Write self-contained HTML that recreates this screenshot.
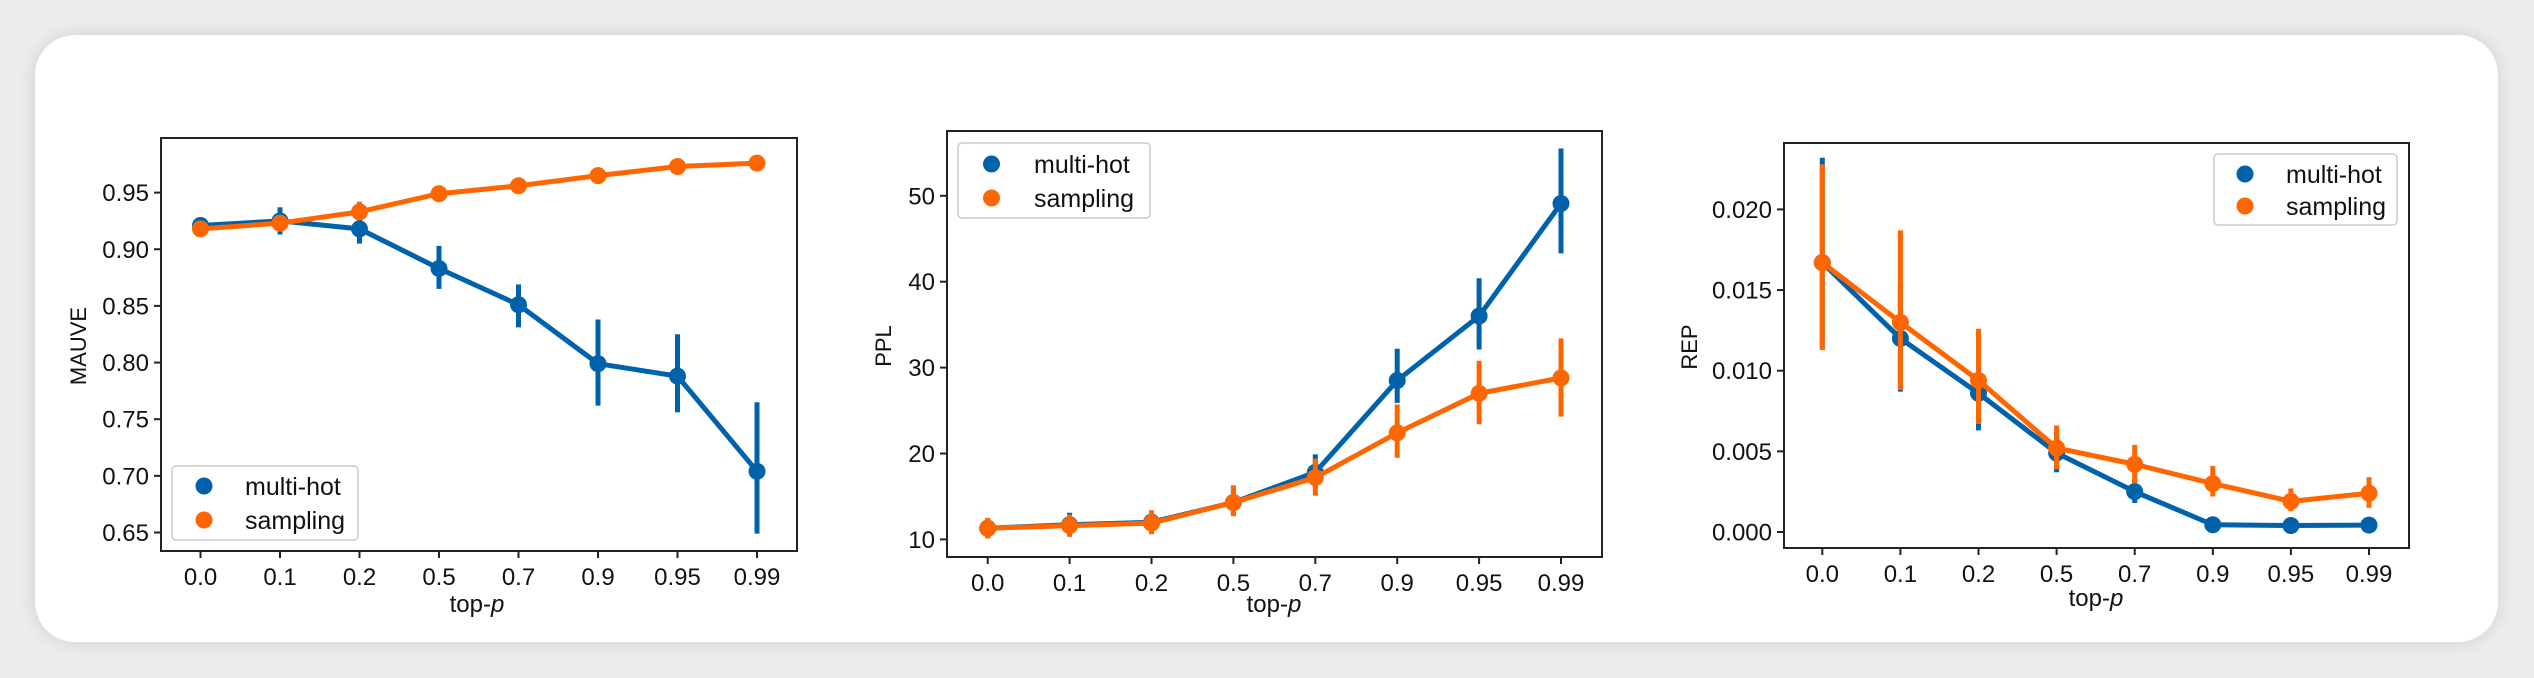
<!DOCTYPE html>
<html><head><meta charset="utf-8"><style>
html,body{margin:0;padding:0;background:#ececec;}
body{width:2534px;height:678px;overflow:hidden;position:relative;}
#card{position:absolute;left:35px;top:35px;width:2463px;height:607px;background:#fff;border-radius:40px;box-shadow:0 0 18px rgba(0,0,0,0.12);}
svg{position:absolute;left:0;top:0;}
text{font-family:"Liberation Sans",sans-serif;fill:#111;}
</style></head><body>
<div id="card"></div>
<svg id="s" width="2534" height="678" xmlns="http://www.w3.org/2000/svg"></svg>
<script>
var B="#0062ab",O="#ff6600";
var s=document.getElementById('s'),h='';
var labs=["0.0","0.1","0.2","0.5","0.7","0.9","0.95","0.99"];
function chart(c){
  var X=function(i){return c.x0+i*c.dx;};
  var Y=function(v){return c.y0+(v-c.v0)*c.sy;};
  // frame
  h+='<rect x="'+c.L+'" y="'+c.T+'" width="'+(c.R-c.L)+'" height="'+(c.Bm-c.T)+'" fill="none" stroke="#222" stroke-width="2"/>';
  for(var i=0;i<8;i++){var x=X(i);h+='<line x1="'+x+'" y1="'+c.Bm+'" x2="'+x+'" y2="'+(c.Bm+7)+'" stroke="#222" stroke-width="2"/>';
    h+='<text x="'+x+'" y="'+(c.Bm+34)+'" font-size="24" text-anchor="middle">'+labs[i]+'</text>';}
  c.yt.forEach(function(t){var y=Y(t[0]);h+='<line x1="'+(c.L-7)+'" y1="'+y+'" x2="'+c.L+'" y2="'+y+'" stroke="#222" stroke-width="2"/>';
    h+='<text x="'+(c.L-12)+'" y="'+(y+8.5)+'" font-size="24" text-anchor="end">'+t[1]+'</text>';});
  h+='<text x="'+c.xl[0]+'" y="'+c.xl[1]+'" font-size="24" text-anchor="middle">top-<tspan font-style="italic">p</tspan></text>';
  h+='<text transform="translate('+c.yl[0]+','+c.yl[1]+') rotate(-90)" font-size="22" text-anchor="middle" font-family="DejaVu Sans">'+c.yn+'</text>';
  [[c.b,c.be,B],[c.o,c.oe,O]].forEach(function(sr){
    var d=sr[0],e=sr[1],col=sr[2],p='';
    for(var i=0;i<8;i++){var v=e[i];if(v)h+='<line x1="'+X(i)+'" y1="'+Y(v[0])+'" x2="'+X(i)+'" y2="'+Y(v[1])+'" stroke="'+col+'" stroke-width="5"/>';
      p+=(i?'L':'M')+X(i)+','+Y(d[i]);}
    h+='<path d="'+p+'" fill="none" stroke="'+col+'" stroke-width="5" stroke-linejoin="round"/>';
    for(var i=0;i<8;i++)h+='<ellipse cx="'+X(i)+'" cy="'+Y(d[i])+'" rx="8.5" ry="8.5" fill="'+col+'"/>';
  });
  var g=c.lg;
  h+='<rect x="'+g[0]+'" y="'+g[1]+'" width="'+(g[2]-g[0])+'" height="'+(g[3]-g[1])+'" rx="4" fill="#fff" fill-opacity="0.85" stroke="#ccc" stroke-width="1.5"/>';
  h+='<ellipse cx="'+g[4]+'" cy="'+g[5]+'" rx="8.5" ry="8.5" fill="'+B+'"/><ellipse cx="'+g[4]+'" cy="'+g[6]+'" rx="8.5" ry="8.5" fill="'+O+'"/>';
  h+='<text x="'+g[7]+'" y="'+(g[5]+9)+'" font-size="25">multi-hot</text><text x="'+g[7]+'" y="'+(g[6]+9)+'" font-size="25">sampling</text>';
}
chart({L:161,R:797,T:138,Bm:551,x0:200.5,dx:79.5,v0:0.95,y0:192.6,sy:-56.65/0.05,
 yt:[[0.95,"0.95"],[0.90,"0.90"],[0.85,"0.85"],[0.80,"0.80"],[0.75,"0.75"],[0.70,"0.70"],[0.65,"0.65"]],
 xl:[477,612],yl:[86,346],yn:"MAUVE",
 b:[0.921,0.925,0.918,0.883,0.851,0.799,0.788,0.704],
 be:[[0.915,0.927],[0.913,0.937],[0.905,0.93],[0.865,0.903],[0.831,0.869],[0.762,0.838],[0.756,0.825],[0.649,0.765]],
 o:[0.918,0.923,0.933,0.949,0.956,0.965,0.973,0.976],
 oe:[[0.911,0.925],[0.916,0.929],[0.926,0.942],[0.944,0.954],[0.951,0.961],[0.959,0.971],[0.968,0.979],[0.970,0.981]],
 lg:[172,466,358,540,204,486,520,245]});
chart({L:947,R:1602,T:131,Bm:557,x0:987.7,dx:81.9,v0:50,y0:195.8,sy:-8.59,
 yt:[[50,"50"],[40,"40"],[30,"30"],[20,"20"],[10,"10"]],
 xl:[1274,612],yl:[891,346],yn:"PPL",
 b:[11.3,11.7,12.0,14.3,17.8,28.5,36.0,49.1],
 be:[[10.3,12.4],[10.5,13.1],[10.8,13.3],[12.9,16.0],[16.0,19.9],[25.9,32.2],[32.1,40.4],[43.3,55.5]],
 o:[11.3,11.6,11.9,14.3,17.2,22.4,27.0,28.8],
 oe:[[10.1,12.5],[10.3,12.9],[10.6,13.4],[12.7,16.3],[15.1,19.4],[19.5,25.7],[23.4,30.8],[24.3,33.4]],
 lg:[958,143,1150,218,991.5,164,198,1034]});
chart({L:1784,R:2409,T:143,Bm:548,x0:1822.3,dx:78.1,v0:0,y0:532,sy:-80.65/0.005,
 yt:[[0.02,"0.020"],[0.015,"0.015"],[0.01,"0.010"],[0.005,"0.005"],[0,"0.000"]],
 xl:[2096,606],yl:[1697,347],yn:"REP",
 b:[0.0167,0.012,0.0086,0.0049,0.0025,0.00045,0.0004,0.00043],
 be:[[0.0113,0.0232],[0.0087,0.0155],[0.0063,0.011],[0.0037,0.0062],[0.0018,0.0033],[0.0003,0.0006],[0.0003,0.0005],[0.0003,0.0006]],
 o:[0.0167,0.013,0.0094,0.0052,0.0042,0.0030,0.0019,0.0024],
 oe:[[0.0113,0.0228],[0.0088,0.0187],[0.0067,0.0126],[0.0039,0.0066],[0.0030,0.0054],[0.0022,0.0041],[0.0013,0.0027],[0.0015,0.0034]],
 lg:[2214,154,2397,225,2245,174,206,2286]});
s.innerHTML=h;
</script>
</body></html>
